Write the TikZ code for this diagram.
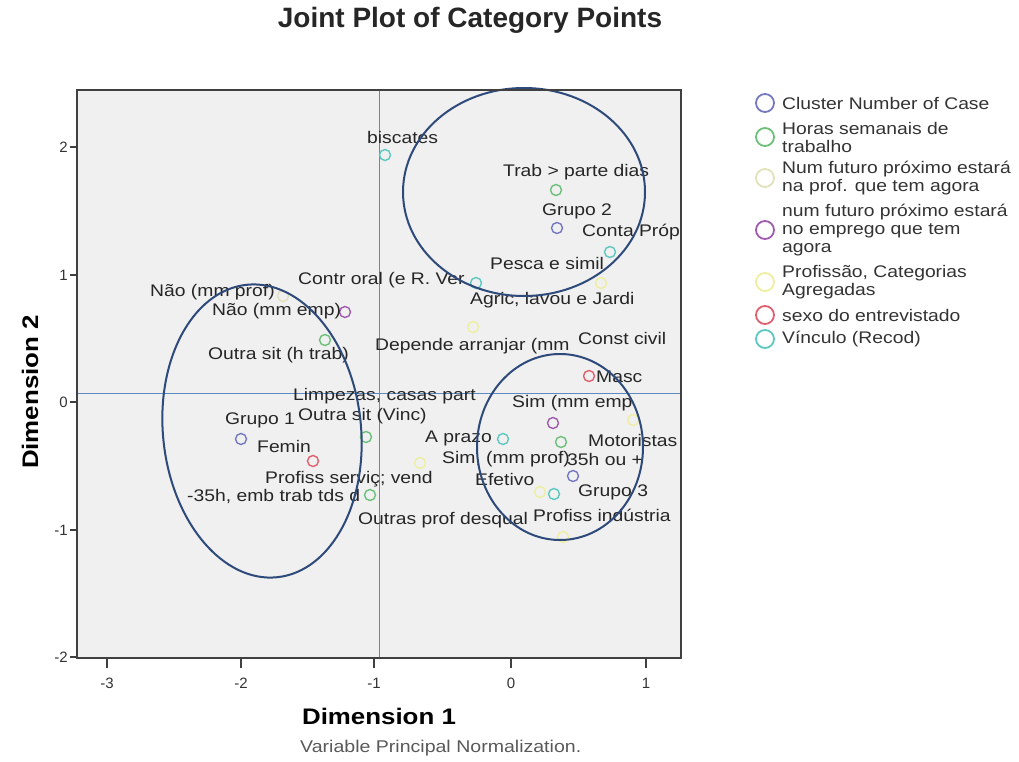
\documentclass[tikz,border=0pt]{standalone}
\usepackage{fontspec}
\setmainfont{Liberation Sans}
\newfontfamily\labf{Liberation Sans}[FakeStretch=1.15]
\definecolor{bgc}{HTML}{F0F0F0}
\definecolor{framec}{HTML}{404040}
\definecolor{ellc}{HTML}{2E4A7A}
\definecolor{refc}{HTML}{5F8AC0}
\definecolor{cclus}{HTML}{7478C0}
\definecolor{choras}{HTML}{6CC07A}
\definecolor{cprof}{HTML}{E2E2B8}
\definecolor{cemp}{HTML}{A05AB0}
\definecolor{cpcat}{HTML}{EEEEA0}
\definecolor{csexo}{HTML}{E06070}
\definecolor{cvinc}{HTML}{5CC8C0}
\begin{document}
\begin{tikzpicture}[x=1pt,y=-1pt,
  pt/.style={circle,draw,line width=1.4pt,minimum size=11pt,inner sep=0pt},
  lgpt/.style={circle,draw,line width=1.8pt,minimum size=18pt,inner sep=0pt},
  lbl/.style={anchor=west,inner sep=0pt,font=\labf\fontsize{16.8}{18}\selectfont,text=black!85},
  lgl/.style={anchor=west,inner sep=0pt,align=left,font=\labf\fontsize{16.8}{18}\selectfont,text=black!80},
  tick/.style={font=\fontsize{15}{16}\selectfont,text=black!80,inner sep=0pt},
  ell/.style={draw=ellc,line width=2pt},
  refl/.style={draw=refc,line width=1pt},
  axt/.style={font=\labf\bfseries\fontsize{22.5}{24}\selectfont,inner sep=0pt}]
\useasboundingbox (0,0) rectangle (1019,762);
% title
\node[font=\bfseries\fontsize{28}{30}\selectfont,text=black!85,inner sep=0pt] (title) at (470,20) {Joint Plot of Category Points};
% plot area
\fill[bgc] (77,90) rectangle (681,658);
\draw[refl] (379,90) -- (379,658);
\draw[refl] (77,393) -- (681,393);
% points
\node[pt,draw=cvinc] (p1) at (385,155) {};
\node[pt,draw=choras] (p2) at (556,190) {};
\node[pt,draw=cclus] (p3) at (557,228) {};
\node[pt,draw=cvinc] (p4) at (610,252) {};
\node[pt,draw=cpcat] (p5) at (601,283) {};
\node[pt,draw=cvinc] (p6) at (476,283) {};
\node[pt,draw=cpcat] (p7) at (473,327) {};
\node[pt,draw=cprof] (p8) at (283,296) {};
\node[pt,draw=cemp] (p9) at (345,312) {};
\node[pt,draw=choras] (p10) at (325,340) {};
\node[pt,draw=csexo] (p11) at (589,376) {};
\node[pt,draw=cemp] (p12) at (553,423) {};
\node[pt,draw=cvinc] (p13) at (503,439) {};
\node[pt,draw=choras] (p14) at (561,442) {};
\node[pt,draw=cclus] (p15) at (573,476) {};
\node[pt,draw=cvinc] (p16) at (554,494) {};
\node[pt,draw=cclus] (p17) at (241,439) {};
\node[pt,draw=csexo] (p18) at (313,461) {};
\node[pt,draw=choras] (p19) at (366,437) {};
\node[pt,draw=choras] (p20) at (370,495) {};
\node[pt,draw=cpcat] (p21) at (420,463) {};
\node[pt,draw=cpcat] (p22) at (540,492) {};
\node[pt,draw=cpcat] (p23) at (563,537) {};
\node[pt,draw=cpcat] (p24) at (633,420) {};
% labels
\node[lbl] (l1) at (367,137) {biscates};
\node[lbl] (l2) at (503,172) {Trab > parte dias};
\node[lbl] (l3) at (542,211) {Grupo 2};
\node[lbl] (l4) at (582,232) {Conta Próp};
\node[lbl] (l5) at (490,263) {Pesca e simil};
\node[lbl] (l6) at (298,280) {Contr oral (e R. Ver};
\node[lbl] (l7) at (470,300) {Agric, lavou e Jardi};
\node[lbl] (l8) at (150,292) {Não (mm prof)};
\node[lbl] (l9) at (212,311) {Não (mm emp)};
\node[lbl] (l10) at (208,355) {Outra sit (h trab)};
\node[lbl] (l11) at (375,346) {Depende arranjar (mm};
\node[lbl] (l12) at (578,338) {Const civil};
\node[lbl] (l13) at (596,377) {Masc};
\node[lbl] (l14) at (293,396) {Limpezas, casas part};
\node[lbl] (l15) at (512,403) {Sim (mm emp};
\node[lbl] (l16) at (225,420) {Grupo 1};
\node[lbl] (l17) at (298,416) {Outra sit (Vinc)};
\node[lbl] (l18) at (425,438) {A prazo};
\node[lbl] (l19) at (588,440) {Motoristas};
\node[lbl] (l20) at (257,446) {Femin};
\node[lbl] (l21) at (442,459) {Sim, (mm prof)};
\node[lbl] (l22) at (567,459) {35h ou +};
\node[lbl] (l23) at (265,479) {Profiss serviç; vend};
\node[lbl] (l24) at (475,479) {Efetivo};
\node[lbl] (l25) at (578,492) {Grupo 3};
\node[lbl] (l26) at (187,496) {-35h, emb trab tds d};
\node[lbl] (l27) at (358,520) {Outras prof desqual};
\node[lbl] (l28) at (533,515) {Profiss indústria};
% ellipses
\draw[ell,rotate around={6:(262,431)}] (262,431) ellipse [x radius=99,y radius=147];
\draw[ell] (524,192) ellipse [x radius=121,y radius=104];
\draw[ell] (560,447) ellipse [x radius=83,y radius=93];
% frame
\draw[framec,line width=2pt] (77,90) rectangle (681,658);
% y ticks
\foreach \yy/\t in {147/2,275/1,402/0,530/-1,657/-2}{
  \draw[framec,line width=1.5pt] (70,\yy) -- (77,\yy);
  \node[tick,anchor=east] at (68,\yy) {\t};
}
% x ticks
\foreach \xx/\t in {107/-3,241/-2,374/-1,511/0,646/1}{
  \draw[framec,line width=1.5pt] (\xx,658) -- (\xx,668);
  \node[tick,anchor=north] at (\xx,678) {\t};
}
\node[axt] (d1) at (379,716) {Dimension 1};
\node[axt,rotate=90] (d2) at (30,392) {Dimension 2};
\node[lbl,text=black!65,font=\labf\fontsize{17}{18}\selectfont] (cap) at (300,748) {Variable Principal Normalization.};
% legend
\node[lgpt,draw=cclus] (g1) at (765,103) {};
\node[lgl] (t1) at (782,103) {Cluster Number of Case};
\node[lgpt,draw=choras] (g2) at (765,137) {};
\node[lgl] (t2) at (782,137) {Horas semanais de\\trabalho};
\node[lgpt,draw=cprof] (g3) at (765,178) {};
\node[lgl] (t3) at (782,178) {Num futuro próximo estará\\na prof. que tem agora};
\node[lgpt,draw=cemp] (g4) at (765,230) {};
\node[lgl] (t4) at (782,230) {num futuro próximo estará\\no emprego que tem\\agora};
\node[lgpt,draw=cpcat] (g5) at (765,282) {};
\node[lgl] (t5) at (782,282) {Profissão, Categorias\\Agregadas};
\node[lgpt,draw=csexo] (g6) at (765,315) {};
\node[lgl] (t6) at (782,315) {sexo do entrevistado};
\node[lgpt,draw=cvinc] (g7) at (765,339) {};
\node[lgl] (t7) at (782,339) {Vínculo (Recod)};
\end{tikzpicture}
\end{document}
